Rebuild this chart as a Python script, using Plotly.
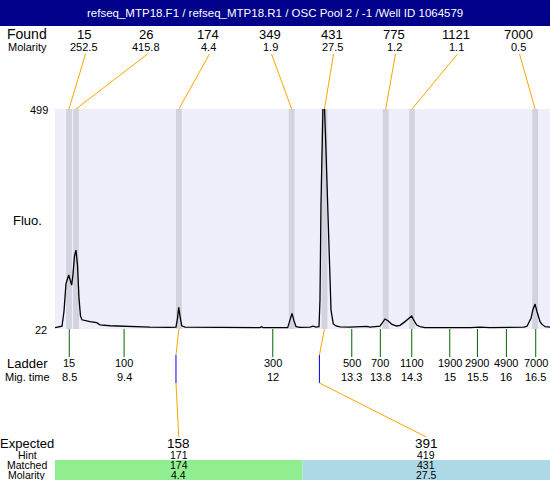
import plotly.graph_objects as go

# ---------------- data ----------------
title_text = "refseq_MTP18.F1 / refseq_MTP18.R1 / OSC Pool 2 / -1 /Well ID 1064579"

mig_time = [8.255, 8.340, 8.375, 8.409, 8.443, 8.490, 8.512, 8.541, 8.563, 8.589,
            8.615, 8.641, 8.666, 8.692, 8.718, 8.769, 8.855, 8.970, 9.027, 9.198,
            9.370, 9.593, 9.884, 10.227, 10.330, 10.356, 10.377, 10.399, 10.428, 10.485,
            11.257, 11.771, 11.797, 11.823, 12.246, 12.286, 12.320, 12.354, 12.389, 12.457,
            12.629, 12.680, 12.732, 12.783, 12.800, 12.817, 12.835, 12.860, 12.895, 12.926,
            12.960, 12.989, 13.028, 13.075, 13.143, 13.315, 13.601, 13.658, 13.829, 13.881,
            13.915, 13.967, 14.035, 14.116, 14.173, 14.258, 14.327, 14.373, 14.413, 14.459,
            14.516, 14.601, 15.373, 15.545, 15.716, 16.231, 16.299, 16.351, 16.419, 16.454,
            16.488, 16.522, 16.540, 16.574, 16.608, 16.660, 16.745]
fluo = [25, 26, 28, 60, 120, 139, 130, 117, 140, 180,
        193, 160, 90, 50, 42, 40, 38, 35.7, 31, 29,
        28, 27.5, 26, 25.5, 26, 45, 69, 50, 29, 26,
        25.5, 25, 27, 25, 25, 40, 56, 40, 27, 25.5,
        26, 28, 26, 27, 85, 291, 440, 560, 440, 300,
        171, 63, 33, 28.5, 26.5, 26, 27.5, 26, 28, 36,
        43.7, 40, 32, 28.5, 30, 38, 45, 50, 40, 30.7,
        27, 25, 25, 26, 25, 25, 26, 28, 45, 65,
        76, 60, 52, 38, 32, 27, 26]

found_size = ["15", "26", "174", "349", "431", "775", "1121", "7000"]
found_molarity = ["252.5", "415.8", "4.4", "1.9", "27.5", "1.2", "1.1", "0.5"]
found_time = [8.495, 8.615, 10.38, 12.315, 12.877, 13.927, 14.378, 16.49]

ladder_size = ["15", "100", "300", "500", "700", "1100", "1900", "2900", "4900", "7000"]
ladder_time_label = ["8.5", "9.4", "12", "13.3", "13.8", "14.3", "15", "15.5", "16", "16.5"]
ladder_time = [8.5, 9.44, 11.99, 13.345, 13.835, 14.374, 15.026, 15.5, 15.997, 16.5]

expected_size = ["158", "391"]
hint_size = ["171", "419"]
matched_size = ["174", "431"]
matched_molarity = ["4.4", "27.5"]
matched_time = [10.38, 12.877]
expected_time = [10.33, 12.79]

y_min, y_max = 22, 499
x_range = [8.255, 16.745]

# ---------------- layout helpers (pixel -> paper / axis) ----------------
W, H = 550, 480
L, T, B = 55, 109, 151
PW, PH = W - L, H - T - B
FONT = "Liberation Sans, Arial, sans-serif"
ORANGE = "#ffa500"


def py(y):
    return (H - B - y) / PH


def px(x):
    return (x - L) / PW


def px2t(x):
    return x_range[0] + (x - L) / PW * (x_range[1] - x_range[0])


fig = go.Figure()
fig.add_trace(go.Scatter(x=mig_time, y=fluo, mode="lines",
                         line=dict(color="black", width=1.3), hoverinfo="skip"))

shapes = []
annotations = []


def text(x, y, s, size, xref="paper", color="black", xanchor="center"):
    annotations.append(dict(x=x, y=y, xref=xref, yref="paper", text=s, showarrow=False,
                            xanchor=xanchor, yanchor="middle", borderpad=0,
                            font=dict(family=FONT, size=size, color=color)))


# title bar
shapes.append(dict(type="rect", xref="paper", yref="paper", x0=px(0), x1=px(W),
                   y0=py(26), y1=py(0), fillcolor="#00008b", line=dict(width=0)))
text(px(275), py(13), title_text, 11.5, color="white")

# peak bands
for t in found_time:
    shapes.append(dict(type="rect", xref="x", yref="paper", x0=t - 0.05, x1=t + 0.05,
                       y0=0, y1=1, fillcolor="#d3d3df", line=dict(width=0), layer="below"))

# found labels + connectors
text(px(27), py(34), "Found", 14)
text(px(27), py(47), "Molarity", 11)
for i, (s, m, t) in enumerate(zip(found_size, found_molarity, found_time)):
    lx = 84 + 62 * i
    text(px(lx), py(34), s, 13)
    text(px(lx), py(47), m, 11)
    shapes.append(dict(type="line", xref="x", yref="paper", x0=px2t(lx + 1.5), y0=py(54),
                       x1=t, y1=1, line=dict(color=ORANGE, width=1)))

# y labels
text(px(49), py(110), "499", 11, xanchor="right")
text(px(48), py(330), "22", 11, xanchor="right")
text(px(27), py(220), "Fluo.", 13)

# ladder
text(px(27), py(363), "Ladder", 13)
text(px(27), py(377), "Mig. time", 11)
for s, lab, t in zip(ladder_size, ladder_time_label, ladder_time):
    shapes.append(dict(type="line", xref="x", yref="paper", x0=t, x1=t, y0=0, y1=py(357),
                       line=dict(color="#006400", width=1)))
    text(t, py(363), s, 11, xref="x")
    text(t, py(377), lab, 11, xref="x")

# expected / matched
shapes.append(dict(type="rect", xref="paper", yref="paper", x0=0, x1=0.5,
                   y0=py(480), y1=py(460), fillcolor="#90ee90", line=dict(width=0)))
shapes.append(dict(type="rect", xref="paper", yref="paper", x0=0.5, x1=1,
                   y0=py(480), y1=py(460), fillcolor="#add8e6", line=dict(width=0)))
text(px(27), py(443), "Expected", 13)
text(px(27), py(455), "Hint", 10.5)
text(px(27), py(465), "Matched", 10.5)
text(px(27), py(475), "Molarity", 10.5)
for i in range(2):
    cx = 0.25 + 0.5 * i
    cx_pix = L + cx * PW
    text(cx, py(443), expected_size[i], 13.5)
    text(cx, py(455), hint_size[i], 10.5)
    text(cx, py(465), matched_size[i], 10.5)
    text(cx, py(475), matched_molarity[i], 10.5)
    shapes.append(dict(type="line", xref="x", yref="paper", x0=matched_time[i], y0=0,
                       x1=expected_time[i], y1=py(355), line=dict(color=ORANGE, width=1)))
    shapes.append(dict(type="line", xref="x", yref="paper", x0=expected_time[i], y0=py(355),
                       x1=expected_time[i], y1=py(383), line=dict(color="#0000ff", width=1)))
    shapes.append(dict(type="line", xref="x", yref="paper", x0=expected_time[i], y0=py(383),
                       x1=px2t(cx_pix), y1=py(437), line=dict(color=ORANGE, width=1)))

fig.update_layout(
    width=W, height=H, autosize=False,
    margin=dict(l=L, r=0, t=T, b=B, pad=0),
    paper_bgcolor="white", plot_bgcolor="#efeffc",
    showlegend=False,
    xaxis=dict(range=x_range, visible=False, fixedrange=True),
    yaxis=dict(range=[y_min, y_max], visible=False, fixedrange=True),
    shapes=shapes, annotations=annotations,
)

fig.write_html("out.html", config={"displayModeBar": False},
               post_script="document.body.style.margin='0px';document.body.style.overflow='hidden';")
